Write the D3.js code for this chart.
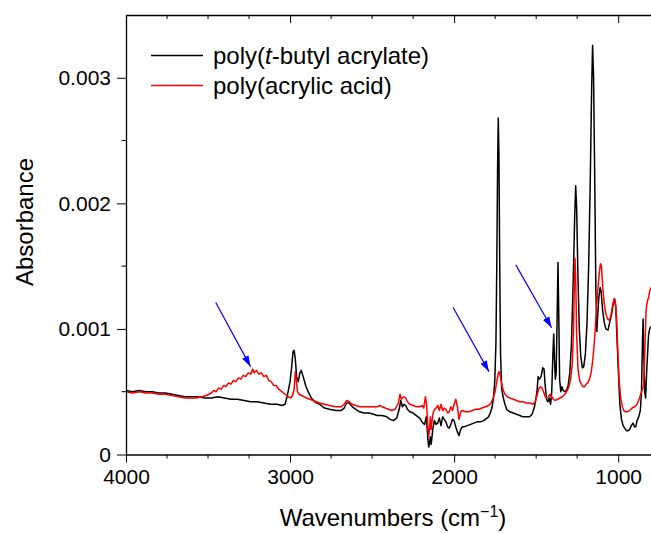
<!DOCTYPE html>
<html>
<head>
<meta charset="utf-8">
<script src="https://cdn.jsdelivr.net/npm/d3@7"></script>
<style>
  body { margin: 0; background: #fff; }
  svg { display: block; font-family: "Liberation Sans", Arial, sans-serif; }
</style>
</head>
<body>
<div id="main"></div>
<script>
// wavenumber (cm-1) / absorbance x 1e-3
const ptbaWave = [4000,3960,3920,3880,3840,3800,3760,3720,3680,3640,3600,3560,3520,3480,3440,3400,3360,3320,3280,3240,3200,3160,3120,3080,3050,3030,3015,3000,2990,2982,2975,2968,2960,2950,2940,2932,2920,2905,2890,2870,2850,2820,2790,2760,2720,2690,2670,2655,2640,2620,2600,2575,2550,2520,2490,2470,2440,2410,2390,2370,2350,2335,2325,2315,2305,2295,2285,2270,2250,2230,2210,2190,2180,2170,2165,2160,2155,2150,2145,2140,2130,2120,2110,2100,2090,2080,2070,2060,2050,2040,2030,2020,2010,2000,1990,1980,1970,1960,1950,1940,1920,1900,1880,1860,1840,1820,1800,1790,1780,1770,1760,1752,1745,1740,1735,1731,1727,1722,1717,1710,1700,1690,1680,1660,1640,1620,1600,1580,1560,1540,1525,1510,1495,1488,1480,1470,1460,1452,1445,1437,1428,1420,1412,1405,1398,1393,1388,1383,1378,1372,1367,1362,1357,1350,1343,1335,1325,1315,1305,1295,1285,1275,1265,1259,1253,1245,1237,1228,1218,1210,1200,1190,1180,1170,1162,1156,1150,1143,1136,1130,1125,1118,1110,1104,1095,1085,1075,1062,1052,1040,1030,1022,1015,1008,1000,990,980,970,960,950,940,930,920,910,900,893,885,875,865,858,852,848,844,838,833,825,815,808,800];
const ptbaAbs = [0.51,0.50,0.51,0.50,0.50,0.49,0.49,0.48,0.47,0.46,0.46,0.46,0.45,0.45,0.46,0.45,0.44,0.44,0.43,0.42,0.42,0.41,0.40,0.40,0.39,0.40,0.48,0.58,0.70,0.82,0.83,0.76,0.62,0.58,0.65,0.67,0.62,0.55,0.50,0.45,0.42,0.40,0.37,0.36,0.35,0.35,0.37,0.41,0.41,0.38,0.36,0.34,0.33,0.33,0.32,0.31,0.31,0.30,0.28,0.27,0.29,0.36,0.43,0.38,0.40,0.39,0.36,0.34,0.33,0.31,0.29,0.25,0.24,0.30,0.22,0.12,0.06,0.09,0.14,0.08,0.20,0.27,0.24,0.25,0.29,0.23,0.30,0.28,0.26,0.22,0.21,0.24,0.28,0.27,0.22,0.18,0.15,0.20,0.22,0.22,0.23,0.24,0.25,0.26,0.26,0.27,0.29,0.30,0.33,0.37,0.45,0.59,0.90,1.50,2.30,2.68,2.40,1.50,0.80,0.52,0.45,0.40,0.36,0.34,0.33,0.32,0.31,0.30,0.30,0.30,0.32,0.38,0.50,0.62,0.60,0.62,0.69,0.68,0.55,0.44,0.42,0.45,0.40,0.50,0.80,0.96,0.75,0.60,0.65,1.10,1.53,1.10,0.60,0.50,0.54,0.51,0.50,0.51,0.55,0.65,0.88,1.35,1.90,2.14,1.95,1.40,1.00,0.78,0.69,0.70,0.80,1.05,1.50,2.20,2.90,3.26,3.00,2.20,1.30,0.98,1.10,1.25,1.33,1.30,1.15,1.05,1.00,0.99,1.05,1.12,1.20,1.24,1.18,0.95,0.70,0.40,0.28,0.23,0.21,0.19,0.19,0.20,0.23,0.25,0.22,0.22,0.27,0.30,0.35,0.50,0.90,1.08,0.80,0.50,0.45,0.70,0.95,1.00,1.02];

const paaWave = [4000,3960,3920,3880,3840,3800,3760,3720,3680,3640,3600,3570,3540,3510,3480,3465,3450,3435,3420,3405,3390,3375,3360,3345,3330,3315,3300,3285,3270,3255,3240,3228,3218,3205,3190,3175,3160,3145,3130,3115,3100,3085,3070,3050,3030,3010,2995,2985,2975,2968,2962,2955,2945,2930,2915,2900,2880,2860,2840,2820,2790,2760,2720,2690,2670,2655,2640,2620,2600,2575,2550,2520,2490,2470,2450,2440,2420,2400,2380,2360,2340,2330,2322,2315,2305,2295,2285,2270,2250,2230,2210,2195,2185,2175,2168,2160,2155,2150,2145,2140,2130,2120,2110,2100,2090,2080,2070,2060,2050,2040,2030,2020,2010,2000,1990,1980,1970,1960,1950,1930,1910,1890,1870,1850,1830,1810,1790,1775,1762,1750,1740,1732,1726,1718,1710,1700,1690,1675,1660,1640,1620,1600,1580,1560,1540,1520,1505,1495,1485,1475,1465,1455,1445,1435,1425,1415,1405,1395,1385,1370,1355,1340,1325,1310,1300,1290,1280,1272,1266,1263,1259,1253,1245,1235,1225,1215,1205,1195,1185,1175,1165,1155,1145,1135,1125,1115,1108,1102,1095,1085,1075,1065,1055,1045,1035,1025,1018,1010,1003,995,985,975,965,955,945,930,915,900,885,870,860,852,845,838,830,822,815,808,800];
const paaAbs = [0.50,0.49,0.50,0.49,0.49,0.48,0.48,0.47,0.46,0.45,0.45,0.45,0.46,0.47,0.49,0.51,0.50,0.53,0.52,0.55,0.54,0.57,0.56,0.59,0.58,0.61,0.60,0.63,0.62,0.65,0.64,0.68,0.65,0.67,0.64,0.65,0.62,0.63,0.59,0.58,0.55,0.55,0.52,0.50,0.48,0.46,0.45,0.47,0.52,0.66,0.60,0.50,0.48,0.47,0.46,0.45,0.44,0.43,0.42,0.41,0.40,0.39,0.38,0.38,0.40,0.43,0.42,0.40,0.39,0.38,0.38,0.38,0.38,0.38,0.39,0.38,0.37,0.36,0.35,0.36,0.41,0.48,0.44,0.45,0.46,0.45,0.42,0.40,0.39,0.38,0.38,0.39,0.37,0.46,0.40,0.22,0.14,0.20,0.30,0.20,0.32,0.36,0.37,0.39,0.35,0.40,0.35,0.37,0.36,0.33,0.34,0.38,0.35,0.40,0.44,0.38,0.28,0.34,0.35,0.34,0.34,0.35,0.36,0.36,0.37,0.38,0.39,0.41,0.45,0.50,0.58,0.64,0.66,0.62,0.56,0.51,0.48,0.46,0.45,0.44,0.43,0.42,0.42,0.41,0.41,0.40,0.42,0.47,0.52,0.54,0.53,0.50,0.46,0.45,0.46,0.48,0.46,0.44,0.43,0.44,0.45,0.46,0.48,0.51,0.54,0.60,0.72,1.00,1.45,1.56,1.40,0.95,0.68,0.59,0.56,0.54,0.54,0.56,0.57,0.60,0.65,0.75,0.90,1.10,1.30,1.45,1.52,1.50,1.35,1.20,1.12,1.08,1.07,1.10,1.18,1.24,1.22,1.10,0.85,0.60,0.45,0.38,0.35,0.34,0.34,0.35,0.37,0.38,0.40,0.45,0.49,0.52,0.55,0.80,1.15,1.22,1.25,1.30,1.33];

const seriesNames = ["poly(t-butyl acrylate)", "poly(acrylic acid)"];
const seriesColors = ["#000000", "#ff0000"];

const xTicks = [4000, 3000, 2000, 1000];
const yTicks = [0, 0.001, 0.002, 0.003];
const yTickLabels = ["0", "0.001", "0.002", "0.003"];

// annotation arrows: [wavenumber, absorbance x 1e-3] start -> end
const arrowFrom = [[3453, 1.21], [2006, 1.17], [1624, 1.51]];
const arrowTo = [[3241, 0.70], [1788, 0.66], [1406, 1.01]];

const width = 651, height = 534;
const margin = {top: 15, right: 0, bottom: 79.5, left: 126};

const x = d3.scaleLinear()
    .domain([4000, 800])
    .range([margin.left, width - margin.right]);

const y = d3.scaleLinear()
    .domain([0, 0.0035])
    .range([height - margin.bottom, margin.top]);

const minorX = d3.range(4000, 799, -250).filter(v => !xTicks.includes(v));
const minorY = [0.0005, 0.0015, 0.0025];

const series = [
    ptbaWave.map((w, i) => [w, ptbaAbs[i] / 1000]),
    paaWave.map((w, i) => [w, paaAbs[i] / 1000])
];

const svg = d3.select("#main").append("svg")
    .attr("width", width)
    .attr("height", height)
    .attr("viewBox", [0, 0, width, height]);

const defs = svg.append("defs");

defs.append("clipPath")
    .attr("id", "plot-clip")
  .append("rect")
    .attr("x", margin.left)
    .attr("y", margin.top)
    .attr("width", width - margin.left - margin.right)
    .attr("height", height - margin.top - margin.bottom);

defs.append("marker")
    .attr("id", "head")
    .attr("markerUnits", "userSpaceOnUse")
    .attr("viewBox", "0 -4 12 8")
    .attr("refX", 11)
    .attr("refY", 0)
    .attr("markerWidth", 12)
    .attr("markerHeight", 8)
    .attr("orient", "auto")
  .append("path")
    .attr("d", "M0,-3.6L11,0L0,3.6Z")
    .attr("fill", "#0000ff");

const line = d3.line()
    .x(d => x(d[0]))
    .y(d => y(d[1]));

svg.append("g")
    .attr("clip-path", "url(#plot-clip)")
    .selectAll("path")
    .data(series)
    .join("path")
    .attr("fill", "none")
    .attr("stroke", (d, i) => seriesColors[i])
    .attr("stroke-width", 1.5)
    .attr("stroke-linejoin", "round")
    .attr("d", line);

// arrows
svg.append("g")
    .selectAll("line")
    .data(arrowFrom)
    .join("line")
    .attr("x1", d => x(d[0]))
    .attr("y1", d => y(d[1] / 1000))
    .attr("x2", (d, i) => x(arrowTo[i][0]))
    .attr("y2", (d, i) => y(arrowTo[i][1] / 1000))
    .attr("stroke", "#0000ff")
    .attr("stroke-width", 1.2)
    .attr("marker-end", "url(#head)");

// axes
const tickFont = 21;
const titleFont = 24;

const xAxis = g => g
    .attr("transform", `translate(0,${y(0)})`)
    .call(d3.axisBottom(x).tickValues(xTicks).tickFormat(d3.format("d")).tickSize(8).tickPadding(7).tickSizeOuter(0))
    .call(g => g.selectAll("text").attr("font-size", tickFont).attr("font-family", null))
    .call(g => g.selectAll(".minor").data(minorX).join("line")
        .attr("class", "minor")
        .attr("x1", d => x(d)).attr("x2", d => x(d))
        .attr("y1", 0).attr("y2", 4)
        .attr("stroke", "#000"));

const xTop = g => g
    .attr("transform", `translate(0,${margin.top})`)
    .call(d3.axisTop(x).tickValues(xTicks).tickFormat("").tickSize(-8).tickSizeOuter(0))
    .call(g => g.selectAll(".minor").data(minorX).join("line")
        .attr("class", "minor")
        .attr("x1", d => x(d)).attr("x2", d => x(d))
        .attr("y1", 0).attr("y2", 4)
        .attr("stroke", "#000"));

const yAxis = g => g
    .attr("transform", `translate(${margin.left},0)`)
    .call(d3.axisLeft(y).tickValues(yTicks).tickFormat((d, i) => yTickLabels[i]).tickSize(9).tickPadding(6).tickSizeOuter(0))
    .call(g => g.selectAll("text").attr("font-size", tickFont).attr("font-family", null))
    .call(g => g.selectAll(".minor").data(minorY).join("line")
        .attr("class", "minor")
        .attr("y1", d => y(d)).attr("y2", d => y(d))
        .attr("x1", 0).attr("x2", -4.5)
        .attr("stroke", "#000"));

svg.append("g").call(xAxis);
svg.append("g").call(xTop);
svg.append("g").call(yAxis);

svg.selectAll(".domain").attr("stroke-width", 1.3);

// axis titles
const xTitle = svg.append("text")
    .attr("x", 393)
    .attr("y", 526)
    .attr("text-anchor", "middle")
    .attr("font-size", titleFont)
    .attr("fill", "#000");
xTitle.append("tspan").text("Wavenumbers (cm");
xTitle.append("tspan").attr("dy", -9).attr("font-size", 16).text("\u22121");
xTitle.append("tspan").attr("dy", 9).text(")");

svg.append("text")
    .attr("transform", "translate(33,222) rotate(-90)")
    .attr("text-anchor", "middle")
    .attr("font-size", titleFont)
    .attr("fill", "#000")
    .text("Absorbance");

// legend
const legend = svg.append("g")
    .selectAll("g")
    .data(seriesNames)
    .join("g")
    .attr("transform", (d, i) => `translate(151,${55.5 + i * 30})`);

legend.append("line")
    .attr("x1", 0).attr("x2", 52)
    .attr("stroke", (d, i) => seriesColors[i])
    .attr("stroke-width", 1.5);

legend.append("text")
    .attr("x", 62)
    .attr("dy", "0.35em")
    .attr("font-size", titleFont)
    .attr("fill", "#000")
    .each(function(d) {
        const t = d3.select(this);
        const m = d.match(/^(poly\()(t)(-.*)$/);
        if (m) {
            t.append("tspan").text(m[1]);
            t.append("tspan").attr("font-style", "italic").text(m[2]);
            t.append("tspan").text(m[3]);
        } else {
            t.text(d);
        }
    });
</script>
</body>
</html>
